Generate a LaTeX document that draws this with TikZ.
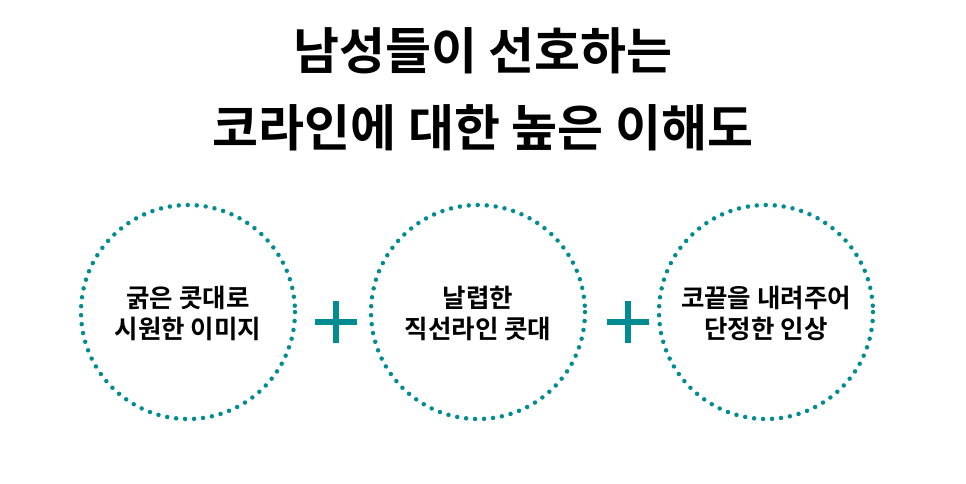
\documentclass[tikz,border=0pt]{standalone}
\usepackage{fontspec}
\newfontfamily\kr{Noto Sans CJK KR Bold}
\definecolor{teal1}{RGB}{0,140,145}
\begin{document}
\begin{tikzpicture}[x=1pt,y=-1pt,
  ring/.style={draw=teal1,line width=4.5pt,line cap=round,dash pattern=on 0pt off 9pt},
  lbl/.style={font=\kr\fontsize{25.5}{31}\selectfont,align=center,text=black},
  ttl/.style={font=\kr\fontsize{50}{77}\selectfont,align=center,text=black},
  plus/.style={draw=teal1,line width=6.5pt}]
\useasboundingbox (0,0) rectangle (966,483);
\node[ttl] (title) at (483,89) {남성들이 선호하는\\코라인에 대한 높은 이해도};
\draw[ring] (188,312) circle (107);
\draw[ring] (478,312) circle (107);
\draw[ring] (766,312) circle (107);
\node[lbl] (a) at (188,313) {굵은 콧대로\\시원한 이미지};
\node[lbl] (b) at (478,313) {날렵한\\직선라인 콧대};
\node[lbl] (c) at (766,313) {코끝을 내려주어\\단정한 인상};
\coordinate (p1) at (336,322);
\coordinate (p2) at (628,322);
\foreach \p in {p1,p2}{
  \draw[plus] ([xshift=-21pt]\p) -- ([xshift=21pt]\p);
  \draw[plus] ([yshift=-21pt]\p) -- ([yshift=21pt]\p);
}
\end{tikzpicture}
\end{document}
